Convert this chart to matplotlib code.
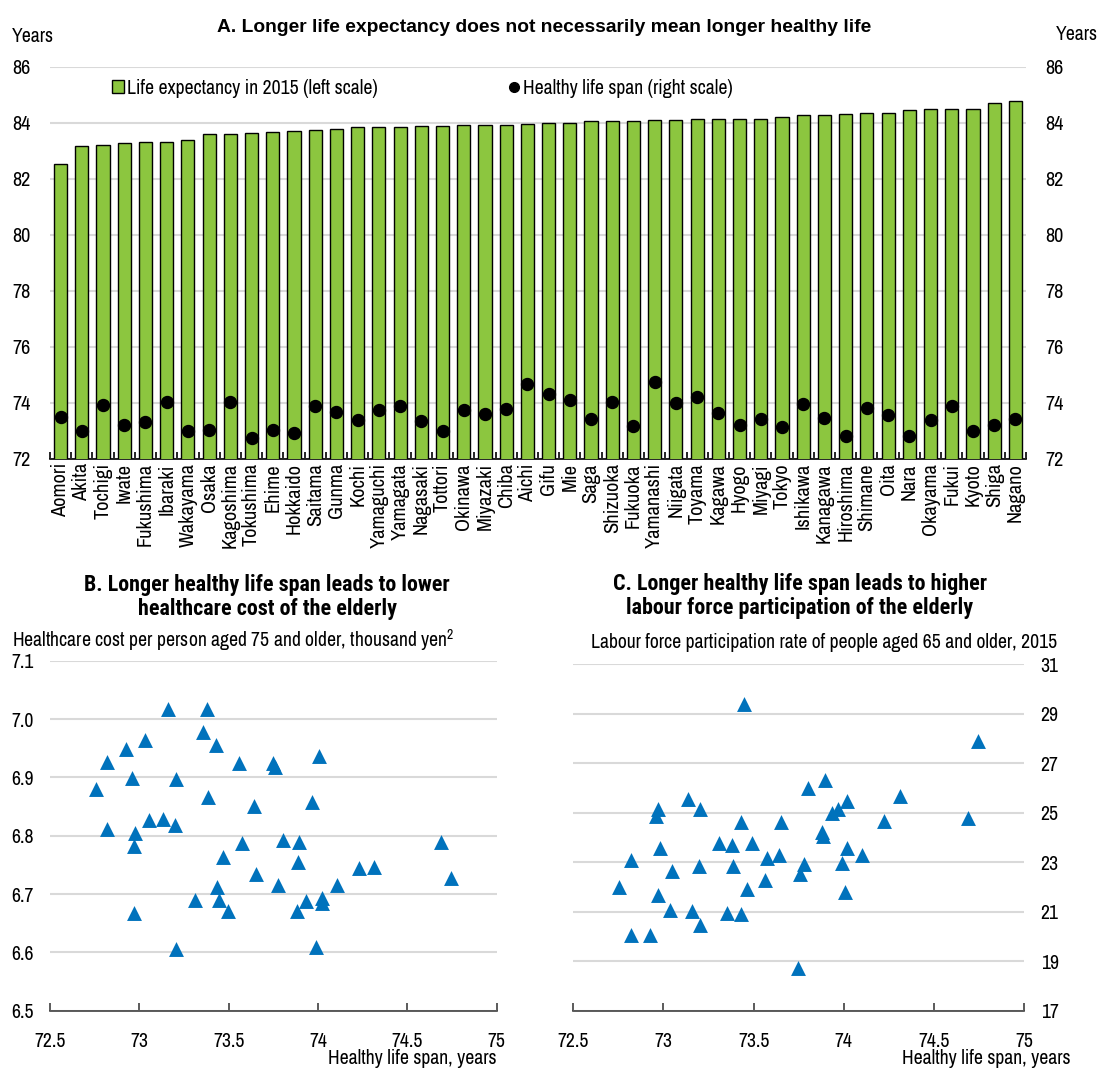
import numpy as np
import matplotlib.pyplot as plt
from matplotlib import font_manager
from matplotlib.patches import Patch
from matplotlib.lines import Line2D

names = {f.name for f in font_manager.fontManager.ttflist}


def pick(cands, default):
    for c in cands:
        if c in names:
            return c
    return default


FONT = pick(['Liberation Sans Narrow', 'Arial Narrow', 'Archivo Narrow', 'Roboto Condensed'], 'Liberation Sans')
BOLD_NARROW = pick(['Liberation Sans Narrow', 'Arial Narrow', 'Roboto Condensed'], 'Liberation Sans')
plt.rcParams['font.family'] = [FONT, 'DejaVu Sans']
plt.rcParams['mathtext.fontset'] = 'custom'
plt.rcParams['mathtext.rm'] = FONT

# Panel A data
prefectures = ['Aomori', 'Akita', 'Tochigi', 'Iwate', 'Fukushima', 'Ibaraki', 'Wakayama',
               'Osaka', 'Kagoshima', 'Tokushima', 'Ehime', 'Hokkaido', 'Saitama', 'Gunma',
               'Kochi', 'Yamaguchi', 'Yamagata', 'Nagasaki', 'Tottori', 'Okinawa', 'Miyazaki',
               'Chiba', 'Aichi', 'Gifu', 'Mie', 'Saga', 'Shizuoka', 'Fukuoka', 'Yamanashi',
               'Niigata', 'Toyama', 'Kagawa', 'Hyogo', 'Miyagi', 'Tokyo', 'Ishikawa',
               'Kanagawa', 'Hiroshima', 'Shimane', 'Oita', 'Nara', 'Okayama', 'Fukui',
               'Kyoto', 'Shiga', 'Nagano']
life_expectancy = [82.54, 83.18, 83.20, 83.29, 83.31, 83.32, 83.40, 83.60, 83.61, 83.64,
                   83.68, 83.70, 83.74, 83.77, 83.85, 83.87, 83.87, 83.88, 83.88, 83.92,
                   83.94, 83.94, 83.98, 84.01, 84.01, 84.07, 84.07, 84.08, 84.11, 84.12,
                   84.14, 84.15, 84.15, 84.16, 84.21, 84.27, 84.29, 84.32, 84.36, 84.37,
                   84.46, 84.49, 84.51, 84.51, 84.70, 84.79]
healthy_life = [73.49, 72.99, 73.93, 73.20, 73.32, 74.02, 72.99, 73.04, 74.02, 72.75,
                73.04, 72.93, 73.89, 73.67, 73.38, 73.75, 73.89, 73.37, 72.99, 73.75,
                73.59, 73.77, 74.69, 74.33, 74.10, 73.43, 74.02, 73.17, 74.75, 73.99,
                74.21, 73.64, 73.20, 73.43, 73.14, 73.96, 73.45, 72.83, 73.82, 73.56,
                72.83, 73.38, 73.89, 72.99, 73.20, 73.44]

# Panel B data
span_b = [73.16, 73.38, 73.356, 73.43, 73.03, 72.925, 72.82, 72.957, 73.205, 72.756,
          73.56, 73.746, 73.757, 74.007, 73.382, 73.64, 73.964, 72.82, 73.052, 73.134,
          73.198, 72.978, 72.972, 73.574, 73.806, 73.893, 74.686, 73.466, 73.886, 74.227,
          74.311, 73.653, 74.746, 73.433, 73.776, 74.104, 73.313, 73.444, 73.933, 74.02,
          74.02, 73.496, 73.88, 72.97, 73.205, 73.99]
cost_b = [7.018, 7.018, 6.978, 6.956, 6.964, 6.948, 6.927, 6.899, 6.897, 6.880,
          6.924, 6.925, 6.917, 6.937, 6.867, 6.851, 6.857, 6.812, 6.827, 6.829,
          6.818, 6.805, 6.782, 6.788, 6.792, 6.790, 6.789, 6.764, 6.755, 6.745,
          6.747, 6.734, 6.728, 6.712, 6.715, 6.715, 6.690, 6.690, 6.688, 6.694,
          6.684, 6.671, 6.671, 6.667, 6.605, 6.610]

# Panel C data
span_c = [73.448, 74.746, 73.803, 73.896, 73.134, 74.314, 74.018, 73.203, 72.971, 72.957,
          73.966, 73.933, 74.687, 74.225, 73.43, 73.652, 73.878, 73.883, 73.31, 73.382,
          73.493, 72.979, 74.016, 74.103, 73.573, 73.641, 72.82, 73.778, 73.989, 73.195,
          73.384, 73.046, 73.756, 73.562, 72.753, 73.463, 72.971, 74.007, 73.036, 73.16,
          73.354, 73.432, 73.203, 72.82, 72.927, 73.748]
participation_c = [29.38, 27.89, 26.00, 26.30, 25.54, 25.65, 25.47, 25.16, 25.13, 24.86,
                   25.13, 24.97, 24.80, 24.66, 24.60, 24.60, 24.22, 24.05, 23.76, 23.69,
                   23.76, 23.59, 23.59, 23.28, 23.18, 23.28, 23.08, 22.94, 22.97, 22.86,
                   22.86, 22.64, 22.50, 22.28, 22.01, 21.93, 21.66, 21.79, 21.06, 21.02,
                   20.96, 20.89, 20.45, 20.04, 20.05, 18.73]

GREEN = '#8cc63f'
BLUE = '#0072bc'
GRID = '#d9d9d9'
FS = 14.2        # plain text and scatter ticks
FS_TICK_A = 14.6 # panel A value ticks
FS_CAT = 14.7    # prefecture names
FS_SUB = 15.8    # panel B/C titles
W, H = 1104, 1068

fig = plt.figure(figsize=(W / 100, H / 100), dpi=100)

# ---- Panel A ----
axA = fig.add_axes([50 / W, 1 - 459 / H, 976 / W, 392 / H])
x = np.arange(len(prefectures))
axA.bar(x, life_expectancy, width=0.62, color=GREEN, edgecolor='black', linewidth=1, zorder=3)
axA.set_xlim(-0.5, len(prefectures) - 0.5)
axA.set_ylim(72, 86)
axA.set_yticks(range(72, 87, 2))
axA.grid(axis='y', color=GRID, linewidth=1.5, zorder=0)
axA.set_axisbelow(True)
for s in ['left', 'right', 'top']:
    axA.spines[s].set_visible(False)
axA.spines['bottom'].set_linewidth(1.2)
axA.set_xticks(x)
axA.set_xticklabels(prefectures, rotation=90, fontsize=FS_CAT)
axA.set_xticks(np.arange(-0.5, len(prefectures), 1), minor=True)
axA.tick_params(axis='x', which='major', length=0, pad=3)
axA.tick_params(axis='x', which='minor', direction='in', length=5, width=1.2)
axA.tick_params(axis='y', length=0, pad=14, labelsize=FS_TICK_A)

axR = axA.twinx()
axR.plot(x, healthy_life, 'o', color='black', markersize=8.6, zorder=4)
axR.set_ylim(72, 86)
axR.set_yticks(range(72, 87, 2))
axR.tick_params(axis='y', length=0, pad=14, labelsize=FS_TICK_A)
for s in axR.spines.values():
    s.set_visible(False)

handles = [Patch(facecolor=GREEN, edgecolor='black', linewidth=1),
           Line2D([], [], marker='o', color='black', linestyle='none', markersize=7)]
axA.legend(handles, ['Life expectancy in 2015 (left scale)', 'Healthy life span (right scale)'],
           ncol=2, frameon=False, fontsize=FS, loc='center left', bbox_to_anchor=(0.064, 0.946),
           handlelength=0.6, handleheight=0.6, handletextpad=0.15, columnspacing=6.6,
           borderaxespad=0, borderpad=0)

fig.text(544 / W, 1 - 28 / H, 'A. Longer life expectancy does not necessarily mean longer healthy life',
         ha='center', va='center', fontsize=13.9, fontweight='bold', family='Liberation Sans')
fig.text(12 / W, 1 - 36 / H, 'Years', ha='left', va='center', fontsize=FS)
fig.text(1098 / W, 1 - 34 / H, 'Years', ha='right', va='center', fontsize=FS)


def style_scatter(ax, ylo, yhi, ystep, fmt):
    ax.set_xlim(72.5, 75)
    ax.set_ylim(ylo, yhi)
    xt = np.arange(72.5, 75.01, 0.5)
    ax.set_xticks(xt)
    ax.set_xticklabels([f'{v:g}' for v in xt])
    yt = np.arange(ylo, yhi + ystep / 2, ystep)
    ax.set_yticks(yt)
    ax.set_yticklabels([fmt.format(v) for v in yt])
    ax.grid(axis='y', color=GRID, linewidth=1.5, zorder=0)
    ax.set_axisbelow(True)
    for s in ['left', 'right', 'top']:
        ax.spines[s].set_visible(False)
    ax.spines['bottom'].set_linewidth(1.2)
    ax.spines['bottom'].set_color('#404040')
    ax.tick_params(axis='x', direction='in', length=6, width=1.2, color='#404040', pad=15, labelsize=FS)
    ax.tick_params(axis='y', length=0, pad=12, labelsize=FS)


# ---- Panel B ----
axB = fig.add_axes([50 / W, 1 - 1010.7 / H, 446.7 / W, 350 / H])
axB.scatter(span_b, cost_b, marker='^', s=115, color=BLUE, linewidths=0, zorder=3)
style_scatter(axB, 6.5, 7.1, 0.1, '{:.1f}')
fig.text(267 / W, 1 - 597 / H, 'B. Longer healthy life span leads to lower\nhealthcare cost of the elderly',
         ha='center', va='center', fontsize=FS_SUB, fontweight='bold', family=BOLD_NARROW, linespacing=1.1)
fig.text(12 / W, 1 - 640 / H, r'Healthcare cost per person aged 75 and older, thousand yen$^{\mathregular{2}}$',
         ha='left', va='center', fontsize=FS)
fig.text(497 / W, 1 - 1059 / H, 'Healthy life span, years', ha='right', va='center', fontsize=FS)

# ---- Panel C ----
axC = fig.add_axes([573.3 / W, 1 - 1010.7 / H, 450.7 / W, 346.7 / H])
axC.scatter(span_c, participation_c, marker='^', s=115, color=BLUE, linewidths=0, zorder=3)
style_scatter(axC, 17, 31, 2, '{:.0f}')
axC.yaxis.tick_right()
axC.tick_params(axis='y', length=0, pad=12)
fig.text(800 / W, 1 - 596 / H, 'C. Longer healthy life span leads to higher\nlabour force participation of the elderly',
         ha='center', va='center', fontsize=FS_SUB, fontweight='bold', family=BOLD_NARROW, linespacing=1.1)
fig.text(1057 / W, 1 - 643 / H, 'Labour force participation rate of people aged 65 and older, 2015',
         ha='right', va='center', fontsize=FS)
fig.text(1071 / W, 1 - 1059 / H, 'Healthy life span, years', ha='right', va='center', fontsize=FS)

fig.savefig('out.png', dpi=100)
